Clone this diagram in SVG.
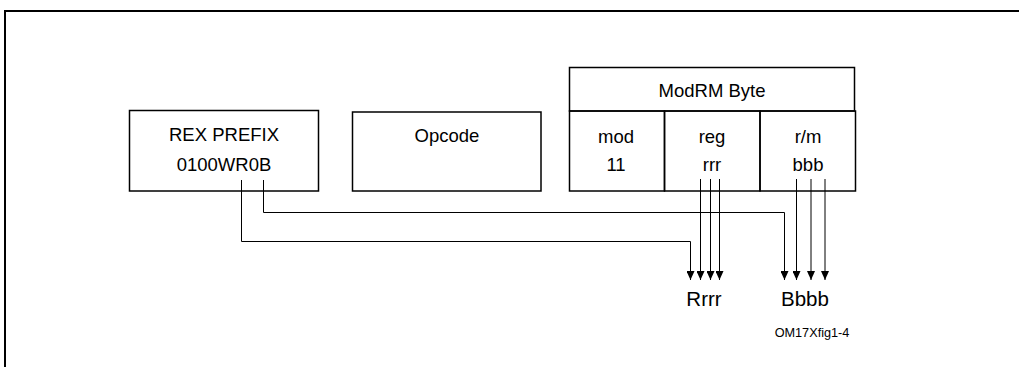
<svg xmlns="http://www.w3.org/2000/svg" width="1019" height="367" viewBox="0 0 1019 367">
<defs>
<style>
.box{fill:none;stroke:#000;stroke-width:1.5}
.t{font-family:"Liberation Sans",Arial,sans-serif;font-size:18.5px;fill:#000;text-anchor:middle}
.big{font-family:"Liberation Sans",Arial,sans-serif;font-size:20.5px;fill:#000;text-anchor:middle}
.small{font-family:"Liberation Sans",Arial,sans-serif;font-size:12.7px;fill:#000;text-anchor:middle}
.c{fill:none;stroke:#000;stroke-width:1}
</style>
<marker id="ah" viewBox="0 0 9 8" refX="9" refY="4" markerWidth="9" markerHeight="8" markerUnits="userSpaceOnUse" orient="auto">
<path d="M0,0 L9,4 L0,8 Z" fill="#000"/>
</marker>
</defs>
<rect width="1019" height="367" fill="#fff"/>
<path d="M5,367 L5,11 L1019,11" fill="none" stroke="#000" stroke-width="2"/>
<g id="rex">
<rect class="box" x="129.5" y="110.5" width="189" height="80.5"/>
<text class="t" x="224" y="141">REX PREFIX</text>
<text class="t" x="224" y="171">0100WR0B</text>
</g>
<g id="opcode">
<rect class="box" x="352.5" y="112" width="188.5" height="79"/>
<text class="t" x="447" y="142">Opcode</text>
</g>
<g id="modrm">
<rect class="box" x="569.5" y="67.5" width="285" height="43.5"/>
<text class="t" x="712" y="97">ModRM Byte</text>
</g>
<g id="mod">
<rect class="box" x="569.5" y="111" width="95" height="80"/>
<text class="t" x="616" y="143">mod</text>
<text class="t" x="616" y="171">11</text>
</g>
<g id="reg">
<rect class="box" x="664.5" y="111" width="95.5" height="80"/>
<text class="t" x="712" y="143">reg</text>
<text class="t" x="712" y="171">rrr</text>
</g>
<g id="rm">
<rect class="box" x="760" y="111" width="95.5" height="80"/>
<text class="t" x="808" y="143">r/m</text>
<text class="t" x="808" y="171">bbb</text>
</g>
<g id="connectors">
<path class="c" d="M241.5,180 V241.5 H690.5 V280" marker-end="url(#ah)"/>
<path class="c" d="M263.5,180 V212.5 H784.5 V280" marker-end="url(#ah)"/>
<path class="c" d="M700.5,179 V280" marker-end="url(#ah)"/>
<path class="c" d="M710.5,179 V280" marker-end="url(#ah)"/>
<path class="c" d="M719.5,179 V280" marker-end="url(#ah)"/>
<path class="c" d="M796.5,179 V280" marker-end="url(#ah)"/>
<path class="c" d="M811,179 V280" marker-end="url(#ah)"/>
<path class="c" d="M825,179 V280" marker-end="url(#ah)"/>
</g>
<g id="labels">
<text class="big" x="704" y="306">Rrrr</text>
<text class="big" x="805" y="306">Bbbb</text>
<text class="small" x="812" y="337">OM17Xfig1-4</text>
</g>
</svg>
